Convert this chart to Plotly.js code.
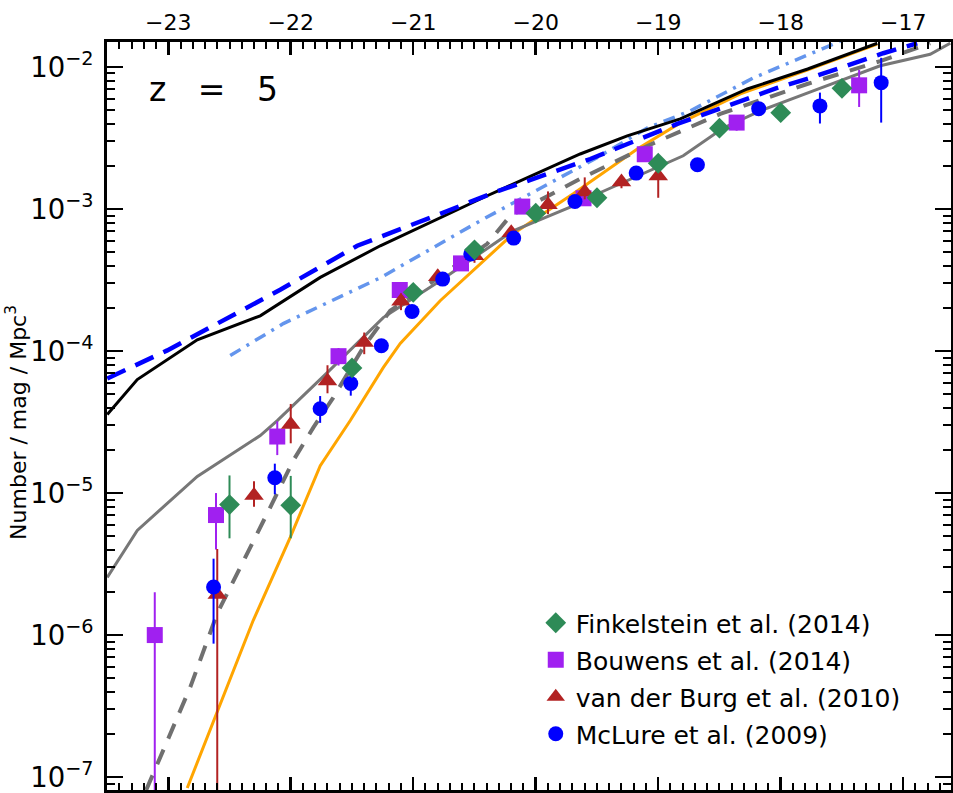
<!DOCTYPE html>
<html>
<head>
<meta charset="utf-8">
<script src="https://cdn.plot.ly/plotly-3.0.1.min.js"></script>
<style>html,body{margin:0;padding:0;background:#fff;}#plot{width:953px;height:793px;}</style>
</head>
<body>
<div id="plot"></div>
<script>
// ---- Observational data ----
const finkX = [-22.5, -22.0, -21.5, -21.0, -20.5, -20.0, -19.5, -19.0, -18.5, -18.0, -17.5];
const finkY = [8.3e-6, 8.2e-6, 7.6e-5, 2.59e-4, 5.16e-4, 9.35e-4, 1.2e-3, 2.1e-3, 3.71e-3, 4.77e-3, 7.08e-3];
const finkErrP = [5e-6, 5e-6, 1e-5, 2e-5, 3e-5, 6e-5, 1e-4, 2e-4, 3e-4, 4e-4, 6e-4];
const finkErrM = [3.5e-6, 3.4e-6, 1e-5, 2e-5, 3e-5, 6e-5, 1e-4, 2e-4, 3e-4, 4e-4, 6e-4];

const bouwX = [-23.11, -22.61, -22.11, -21.61, -21.11, -20.61, -20.11, -19.61, -19.11, -18.36, -17.36];
const bouwY = [1.0e-6, 7.0e-6, 2.5e-5, 9.2e-5, 2.69e-4, 4.14e-4, 1.04e-3, 1.19e-3, 2.43e-3, 4.06e-3, 7.43e-3];
const bouwErrP = [1.0e-6, 3e-6, 7e-6, 1.3e-5, 2.4e-5, 3.3e-5, 6e-5, 1.2e-4, 1.8e-4, 5e-4, 2.1e-3];
const bouwErrM = [0.99e-6, 3e-6, 6.5e-6, 1.3e-5, 2.4e-5, 3.3e-5, 6e-5, 1.2e-4, 1.8e-4, 5e-4, 2.2e-3];

const vdbX = [-22.6, -22.3, -22.0, -21.7, -21.4, -21.1, -20.8, -20.5, -20.2, -19.9, -19.6, -19.3, -19.0];
const vdbY = [1.93e-6, 9.6e-6, 3.04e-5, 6.14e-5, 1.15e-4, 2.24e-4, 3.33e-4, 4.68e-4, 6.81e-4, 1.07e-3, 1.32e-3, 1.55e-3, 1.71e-3];
const vdbErrP = [2.1e-6, 2.5e-6, 1.2e-5, 1.8e-5, 2e-5, 3e-5, 4e-5, 5e-5, 7e-5, 2.6e-4, 3.5e-4, 1.5e-4, 2e-4];
const vdbErrM = [1.92e-6, 1.6e-6, 8e-6, 1.1e-5, 2e-5, 3e-5, 4e-5, 5e-5, 7e-5, 1.5e-4, 1.5e-4, 1.5e-4, 5.1e-4];

const mclX = [-22.63, -22.13, -21.76, -21.51, -21.26, -21.01, -20.76, -20.53, -20.18, -19.68, -19.18, -18.68, -18.18, -17.68, -17.18];
const mclY = [2.18e-6, 1.28e-5, 3.92e-5, 5.9e-5, 1.09e-4, 1.90e-4, 3.21e-4, 4.82e-4, 6.24e-4, 1.13e-3, 1.79e-3, 2.05e-3, 5.09e-3, 5.32e-3, 7.76e-3];
const mclErrP = [1.27e-6, 3.3e-6, 9e-6, 6.3e-6, 1.2e-5, 1.5e-5, 2e-5, 3e-5, 4e-5, 6e-5, 8e-5, 1e-4, 2.5e-4, 1.28e-3, 3.84e-3];
const mclErrM = [1.31e-6, 3.0e-6, 8e-6, 1.05e-5, 1.2e-5, 1.5e-5, 2e-5, 3e-5, 4e-5, 6e-5, 8e-5, 1e-4, 2.5e-4, 1.32e-3, 3.7e-3];

// ---- Model curves ----
const blackX = [-23.498, -23.253, -22.763, -22.249, -21.759, -21.269, -20.396, -19.637, -19.253, -18.820, -18.273, -17.78, -17.212];
const blackY = [3.57e-5, 6.30e-5, 1.20e-4, 1.77e-4, 3.30e-4, 5.51e-4, 1.24e-3, 2.44e-3, 3.27e-3, 4.31e-3, 7.00e-3, 9.68e-3, 1.47e-2];

const blueDashX = [-23.498, -23.008, -22.086, -21.457, -20.78, -20.347, -19.555, -18.845, -18.437, -18.029, -17.759, -17.408, -17.163, -16.886];
const blueDashY = [6.40e-5, 1.01e-4, 2.70e-4, 5.51e-4, 9.25e-4, 1.30e-3, 2.25e-3, 3.97e-3, 5.32e-3, 7.12e-3, 8.37e-3, 1.07e-2, 1.25e-2, 1.47e-2];

const ltBlueX = [-22.494, -22.061, -21.269, -20.453, -19.473, -19.090, -18.739, -18.224, -17.514];
const ltBlueY = [9.29e-5, 1.56e-4, 3.28e-4, 8.26e-4, 2.37e-3, 3.72e-3, 4.91e-3, 8.37e-3, 1.52e-2];

const graySolX = [-23.498, -23.253, -22.763, -22.249, -22.11, -21.702, -21.245, -20.78, -20.184, -19.694, -19.531, -18.796, -18.469, -18.167, -17.735, -17.188, -16.78, -16.616];
const graySolY = [2.55e-6, 5.46e-6, 1.31e-5, 2.54e-5, 3.24e-5, 7.05e-5, 1.72e-4, 3.13e-4, 7.03e-4, 1.05e-3, 1.24e-3, 2.37e-3, 3.72e-3, 4.91e-3, 6.78e-3, 1.02e-2, 1.23e-2, 1.47e-2];

const grayDashX = [-23.18, -22.82, -22.60, -22.388, -22.192, -21.98, -21.816, -21.653, -21.408, -21.188, -20.78, -20.396, -20.208, -19.637, -19.090, -18.494, -17.784, -17.188, -16.78];
const grayDashY = [8.1e-8, 4.30e-7, 1.42e-6, 3.36e-6, 7.19e-6, 1.69e-5, 2.89e-5, 4.70e-5, 1.06e-4, 1.92e-4, 3.39e-4, 5.69e-4, 8.95e-4, 1.63e-3, 2.78e-3, 4.67e-3, 7.59e-3, 1.10e-2, 1.47e-2];

const orangeX = [-22.845, -22.616, -22.306, -22.004, -21.759, -21.514, -21.245, -21.106, -20.78, -20.184, -19.694, -19.171, -18.902, -18.82, -18.33, -17.784, -17.212];
const orangeY = [8.38e-8, 2.64e-7, 1.27e-6, 4.88e-6, 1.56e-5, 3.24e-5, 7.64e-5, 1.13e-4, 2.26e-4, 6.70e-4, 1.28e-3, 2.65e-3, 3.66e-3, 4.04e-3, 6.46e-3, 9.52e-3, 1.45e-2];

const xTickVals = [-23, -22, -21, -20, -19, -18, -17];
const legendNames = ['Finkelstein et al. (2014)', 'Bouwens et al. (2014)', 'van der Burg et al. (2010)', 'McLure et al. (2009)'];

const FONT = 'DejaVu Sans, Verdana, sans-serif';

function line(x, y, color, width, dash) {
  return {x: x, y: y, type: 'scatter', mode: 'lines', showlegend: false, hoverinfo: 'skip',
          line: {color: color, width: width, dash: dash || 'solid'}};
}
function pts(x, y, ep, em, name, symbol, color, size, rank) {
  return {x: x, y: y, type: 'scatter', mode: 'markers', name: name, legendrank: rank, legendgroup: 'g' + rank,
          marker: {symbol: symbol, color: color, size: size, line: {width: 0}},
          error_y: {type: 'data', symmetric: false, array: ep, arrayminus: em, color: color, thickness: 2, width: 0}};
}

const traces = [
  line(orangeX, orangeY, '#FFA500', 3),
  line(graySolX, graySolY, '#777777', 3),
  line(grayDashX, grayDashY, '#707070', 4, '16px,12px'),
  line(ltBlueX, ltBlueY, '#6495ED', 3.5, '12px,7px,3px,7px'),
  line(blackX, blackY, '#000000', 3),
  line(blueDashX, blueDashY, '#0000FF', 4.5, '20px,11px'),
  pts(bouwX, bouwY, bouwErrP, bouwErrM, legendNames[1], 'square', '#A020F0', 16, 2),
  pts(vdbX, vdbY, vdbErrP, vdbErrM, legendNames[2], 'triangle-up', '#B22222', 17, 3),
  pts(mclX, mclY, mclErrP, mclErrM, legendNames[3], 'circle', '#0000FF', 15, 4),
  pts(finkX, finkY, finkErrP, finkErrM, legendNames[0], 'diamond', '#2E8B57', 16, 1)
];

const layout = {
  width: 953, height: 793,
  margin: {l: 107, r: 2, t: 42, b: 3, pad: 0},
  paper_bgcolor: '#ffffff', plot_bgcolor: '#ffffff',
  font: {family: FONT, color: '#000', size: 22},
  showlegend: true,
  legend: {x: 0.508, y: 0.254, xanchor: 'left', yanchor: 'top', bgcolor: 'rgba(0,0,0,0)',
           font: {family: FONT, size: 25, color: '#000'}, tracegroupgap: 1.5, itemsizing: 'trace'},
  xaxis: {
    range: [-23.5, -16.61], side: 'top', tickmode: 'array', tickvals: xTickVals,
    ticks: 'inside', ticklen: 13, tickwidth: 2.5, tickcolor: '#000',
    showline: true, linewidth: 3, linecolor: '#000', mirror: 'allticks',
    showgrid: false, zeroline: false, ticklabelstandoff: 0,
    tickfont: {family: FONT, size: 22, color: '#000'},
    minor: {dtick: 0.1, tick0: -23, ticks: 'inside', ticklen: 7, tickwidth: 2, tickcolor: '#000', showgrid: false}
  },
  yaxis: {
    type: 'log', range: [-7.091, -1.824], dtick: 1, exponentformat: 'power',
    ticks: 'inside', ticklen: 16, tickwidth: 2.5, tickcolor: '#000',
    showline: true, linewidth: 3, linecolor: '#000', mirror: 'allticks',
    showgrid: false, zeroline: false, ticklabelstandoff: 6,
    tickfont: {family: FONT, size: 22, color: '#000'},
    minor: {dtick: 'D1', ticks: 'inside', ticklen: 8, tickwidth: 2, tickcolor: '#000', showgrid: false}
  },
  annotations: [
    {xref: 'paper', yref: 'paper', x: 0.047, y: 0.936, xanchor: 'left', yanchor: 'middle', showarrow: false,
     text: 'z\u00A0\u00A0\u00A0=\u00A0\u00A0\u00A05', font: {family: FONT, size: 33, color: '#000'}},
    {xref: 'paper', yref: 'paper', x: -0.107, y: 0.4917, xanchor: 'center', yanchor: 'middle', showarrow: false,
     textangle: -90, text: 'Number / mag / Mpc<sup>3</sup>', font: {family: FONT, size: 22, color: '#000'}}
  ]
};

Plotly.newPlot('plot', traces, layout, {displayModeBar: false, staticPlot: true});
</script>
</body>
</html>
